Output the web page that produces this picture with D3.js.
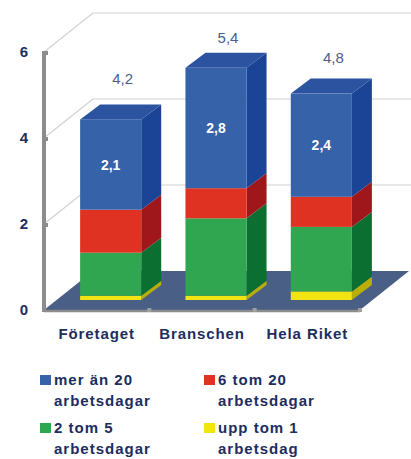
<!DOCTYPE html>
<html>
<head>
<meta charset="utf-8">
<script src="https://cdn.jsdelivr.net/npm/d3@7"></script>
<style>
  body { margin: 0; background: #fff; }
  svg { display: block; font-family: 'Liberation Sans', Arial, sans-serif; }
</style>
</head>
<body>
<svg width="411" height="459"></svg>
<script>
'use strict'

const categories = ['Företaget', 'Branschen', 'Hela Riket']
const uppTom1 = [0.1, 0.1, 0.2]
const tvaTom5 = [1.0, 1.8, 1.5]
const sexTom20 = [1.0, 0.7, 0.7]
const merAn20 = [2.1, 2.8, 2.4]
const totals = [4.2, 5.4, 4.8]
const yTicks = [0, 2, 4, 6]

const seriesNames = ['upp tom 1 arbetsdag', '2 tom 5 arbetsdagar', '6 tom 20 arbetsdagar', 'mer än 20 arbetsdagar']
const legendLines = [
  ['mer än 20', 'arbetsdagar'],
  ['6 tom 20', 'arbetsdagar'],
  ['2 tom 5', 'arbetsdagar'],
  ['upp tom 1', 'arbetsdag']
]

const colors = [
  { front: '#f2e412', side: '#b9ad08', top: '#e0d40e' },
  { front: '#31a651', side: '#0a6f31', top: '#1f8a40' },
  { front: '#e03222', side: '#a0171b', top: '#c42420' },
  { front: '#3562a8', side: '#1c4496', top: '#2b53a0' }
]
const legendColors = ['#3562a8', '#e03222', '#31a651', '#f2e412']

const svg = d3.select('body svg')
const fmt = (v) => d3.format('.1f')(v).replace('.', ',')

// front plane + depth
const xScale = d3.scaleBand().domain(categories).range([44, 360])
  .paddingInner(0.42).paddingOuter(0.21)
const yScale = d3.scaleLinear().domain([0, 6]).range([310, 52])
const labelScale = d3.scaleLinear().domain([0, 6]).range([222, 17])
const depthX = 49
const depthY = -39
const barShiftX = 14
const barShiftY = -10
const barDX = 20
const barDY = -15

// walls / gridlines
const grid = svg.append('g').classed('grid', true)
yTicks.filter((t) => t > 0).forEach((t) => {
  grid.append('line')
    .attr('x1', 44).attr('y1', yScale(t))
    .attr('x2', 44 + depthX).attr('y2', yScale(t) + depthY)
    .style('stroke', '#d2d2d2').style('stroke-width', '1.2px')
  grid.append('line')
    .attr('x1', 44 + depthX).attr('y1', yScale(t) + depthY)
    .attr('x2', 411).attr('y2', yScale(t) + depthY)
    .style('stroke', '#d2d2d2').style('stroke-width', '1.2px')
})

// floor
const fx0 = 44
const fx1 = 360
const fy = yScale(0)
svg.append('polygon')
  .attr('points', [[fx0, fy], [fx1, fy], [fx1 + depthX, fy + depthY], [fx0 + depthX, fy + depthY]].join(' '))
  .style('fill', '#4a5f86')

// axes
svg.append('line')
  .attr('x1', 44).attr('y1', yScale(6) - 1).attr('x2', 44).attr('y2', fy + 2)
  .style('stroke', '#8c8c8c').style('stroke-width', '4px')
svg.append('line')
  .attr('x1', 44).attr('y1', fy + 1).attr('x2', fx1).attr('y2', fy + 1)
  .style('stroke', '#8c8c8c').style('stroke-width', '2.5px')
yTicks.filter((t) => t > 0).forEach((t) => {
  svg.append('rect')
    .attr('x', 42).attr('y', yScale(t) - 1).attr('width', 6).attr('height', 4)
    .style('fill', '#8c8c8c')
})
categories.forEach((c) => {
  svg.append('rect')
    .attr('x', xScale(c) + xScale.bandwidth() + xScale.step() * 0.21 - 2)
    .attr('y', fy - 2).attr('width', 4).attr('height', 4)
    .style('fill', '#a0a0a0')
})

const yAxis = d3.axisLeft(yScale).tickValues(yTicks).tickFormat(d3.format('d'))
  .tickSize(0).tickPadding(0)
const yAxisG = svg.append('g').attr('transform', 'translate(24, 0)').call(yAxis)
yAxisG.select('path.domain').remove()
yAxisG.selectAll('text')
  .attr('text-anchor', 'middle')
  .style('font-size', '15px').style('font-weight', 'bold')
  .style('fill', '#1c2d5e').style('font-family', "'Liberation Sans', Arial, sans-serif")

// category labels
const xAxis = d3.axisBottom(xScale).tickSize(0).tickPadding(0)
const xAxisG = svg.append('g').attr('transform', 'translate(0, 328)').call(xAxis)
xAxisG.select('path.domain').remove()
xAxisG.selectAll('text')
  .style('font-size', '15px').style('font-weight', 'bold')
  .style('letter-spacing', '0.9px')
  .style('fill', '#1c2d5e').style('font-family', "'Liberation Sans', Arial, sans-serif")

// stacked 3d bars
const layers = [uppTom1, tvaTom5, sexTom20, merAn20]
const stackData = categories.map((c, i) => {
  const row = { cat: c }
  seriesNames.forEach((s, k) => { row[s] = layers[k][i] })
  return row
})
const stacked = d3.stack().keys(seriesNames)(stackData)
const bw = xScale.bandwidth()

const bars = svg.append('g').classed('bars', true)
stacked.forEach((layer, k) => {
  layer.forEach((seg, i) => {
    const x0 = xScale(categories[i]) + barShiftX
    const x1 = x0 + bw
    const yb = yScale(seg[0]) + barShiftY
    const yt = yScale(seg[1]) + barShiftY
    const g = bars.append('g')
    g.append('polygon')
      .attr('points', [[x1, yb], [x1 + barDX, yb + barDY], [x1 + barDX, yt + barDY], [x1, yt]].join(' '))
      .style('fill', colors[k].side)
    g.append('rect')
      .attr('x', x0).attr('y', yt).attr('width', bw).attr('height', yb - yt)
      .style('fill', colors[k].front)
    if (k === layers.length - 1) {
      g.append('polygon')
        .attr('points', [[x0, yt], [x1, yt], [x1 + barDX, yt + barDY], [x0 + barDX, yt + barDY]].join(' '))
        .style('fill', colors[k].top)
      g.append('text')
        .attr('x', x0 + bw / 2).attr('y', (yt + yb) / 2 + 5)
        .attr('text-anchor', 'middle')
        .style('font-size', '14px').style('font-weight', 'bold')
        .style('fill', '#fff')
        .text(fmt(merAn20[i]))
    }
  })
})

// totals
categories.forEach((c, i) => {
  svg.append('text')
    .attr('x', xScale(c) + barShiftX + bw / 2 + 12)
    .attr('y', labelScale(totals[i]) + 5)
    .attr('text-anchor', 'middle')
    .style('font-size', '15px')
    .style('fill', '#4b5d8c')
    .text(fmt(totals[i]))
})

// legend
const legendPos = [[40, 385], [204, 385], [40, 433], [204, 433]]
legendLines.forEach((lines, i) => {
  const g = svg.append('g').attr('transform', `translate(${legendPos[i][0]}, ${legendPos[i][1]})`)
  g.append('rect')
    .attr('x', 0).attr('y', -10).attr('width', 11).attr('height', 10)
    .style('fill', legendColors[i])
  lines.forEach((t, j) => {
    g.append('text')
      .attr('x', 14).attr('y', j * 21)
      .style('font-size', '15px').style('font-weight', 'bold')
      .style('letter-spacing', '1px')
      .style('fill', '#1c2d5e')
      .text(t)
  })
})
</script>
</body>
</html>
